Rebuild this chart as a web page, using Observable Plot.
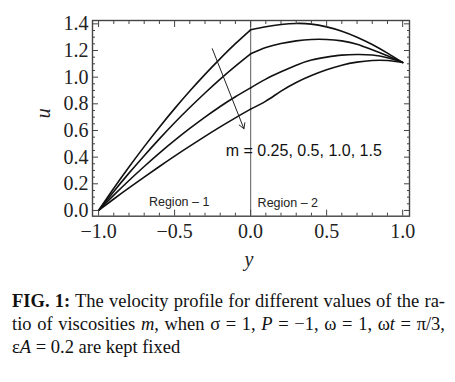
<!DOCTYPE html>
<html><head><meta charset="utf-8">
<script src="https://cdn.jsdelivr.net/npm/d3@7"></script>
<script src="https://cdn.jsdelivr.net/npm/@observablehq/plot@0.6"></script>
<style>
body{margin:0;background:#fff;width:455px;overflow:hidden}
#cap{font-family:"Liberation Serif","Times New Roman",serif;font-size:18.5px;line-height:23px;padding-left:12px;width:433px;color:#111}
#cap .j{display:block;text-align:justify;text-align-last:justify}
#cap .l{display:block;text-align:left}
</style>
</head><body>
<div id="chart"></div>
<div id="cap">
<span class="j"><b>FIG. 1:</b> The velocity profile for different values of the ra-</span>
<span class="j">tio of viscosities <i>m</i>, when σ = 1, <i>P</i> = −1, ω = 1, ω<i>t</i> = π/3,</span>
<span class="l">ε<i>A</i> = 0.2 are kept fixed</span>
</div>
<script>
// categories
const mValues = ["0.25", "0.5", "1.0", "1.5"];
// y coordinates in each region
const yRegion1 = [-1, -0.9, -0.8, -0.7, -0.6, -0.5, -0.4, -0.3, -0.2, -0.1, 0];
const yRegion2 = [0, 0.1, 0.2, 0.3, 0.4, 0.5, 0.6, 0.7, 0.8, 0.9, 1];
// velocity u, region 1
const uM025R1 = [0, 0.167, 0.326, 0.479, 0.625, 0.764, 0.896, 1.021, 1.139, 1.251, 1.355];
const uM05R1  = [0, 0.143, 0.280, 0.411, 0.537, 0.658, 0.772, 0.881, 0.985, 1.083, 1.175];
const uM10R1  = [0, 0.115, 0.225, 0.330, 0.430, 0.525, 0.615, 0.700, 0.780, 0.853, 0.920];
const uM15R1  = [0, 0.086, 0.169, 0.250, 0.330, 0.408, 0.483, 0.556, 0.627, 0.695, 0.760];
// velocity u, region 2
const uM025R2 = [1.355, 1.378, 1.395, 1.403, 1.398, 1.377, 1.345, 1.300, 1.245, 1.180, 1.110];
const uM05R2  = [1.175, 1.222, 1.252, 1.272, 1.283, 1.283, 1.272, 1.247, 1.205, 1.160, 1.110];
const uM10R2  = [0.920, 0.985, 1.040, 1.090, 1.128, 1.150, 1.165, 1.170, 1.166, 1.145, 1.110];
const uM15R2  = [0.760, 0.820, 0.895, 0.960, 1.012, 1.055, 1.090, 1.113, 1.125, 1.125, 1.110];
// ticks
const xMajorTicks = [-1, -0.5, 0, 0.5, 1];
const xMinorTicks = [-0.9, -0.8, -0.7, -0.6, -0.4, -0.3, -0.2, -0.1, 0.1, 0.2, 0.3, 0.4, 0.6, 0.7, 0.8, 0.9];
const yMajorTicks = [0, 0.2, 0.4, 0.6, 0.8, 1.0, 1.2, 1.4];
const yMinorTicks = [0.05, 0.1, 0.15, 0.25, 0.3, 0.35, 0.45, 0.5, 0.55, 0.65, 0.7, 0.75, 0.85, 0.9, 0.95, 1.05, 1.1, 1.15, 1.25, 1.3, 1.35];
// annotations
const arrowStart = [-0.252, 1.213];
const arrowEnd = [-0.044, 0.613];
const mLabel = "m = " + mValues.join(", ");
const region1Label = ["Region – 1"];
const region2Label = ["Region – 2"];

const r1 = [uM025R1, uM05R1, uM10R1, uM15R1];
const r2 = [uM025R2, uM05R2, uM10R2, uM15R2];
const rows = [];
mValues.forEach((m, i) => {
  yRegion1.forEach((y, j) => rows.push({key: m + "-1", y, u: r1[i][j]}));
  yRegion2.forEach((y, j) => rows.push({key: m + "-2", y, u: r2[i][j]}));
});

const fmt = d => d.toFixed(1).replace("-", "−");
const blank = () => "";
const tickStroke = "#444";
const sans = "'Liberation Sans', Arial, sans-serif";

const chart = Plot.plot({
  width: 455, height: 290,
  marginLeft: 92, marginRight: 46, marginTop: 20, marginBottom: 74.3,
  x: {domain: [-1.04, 1.045]},
  y: {domain: [-0.043, 1.425]},
  style: {fontFamily: "'Liberation Serif', serif", fontSize: "20px", color: "#222", background: "white"},
  marks: [
    Plot.ruleX([0], {stroke: "#777", strokeWidth: 1.2}),
    Plot.line(rows, {x: "y", y: "u", z: "key", curve: "natural", stroke: "#111", strokeWidth: 1.6}),
    Plot.arrow([0], {x1: () => arrowStart[0], y1: () => arrowStart[1], x2: () => arrowEnd[0], y2: () => arrowEnd[1], stroke: "#222", strokeWidth: 1, headLength: 9}),
    Plot.text([mLabel], {x: -0.164, y: 0.45, text: d => d, textAnchor: "start", fontFamily: sans, fontSize: 16, fill: "#111"}),
    Plot.text(region1Label, {x: -0.47, y: 0.067, text: d => d, textAnchor: "middle", fontFamily: sans, fontSize: 12.5, fill: "#222"}),
    Plot.text(region2Label, {x: 0.046, y: 0.055, text: d => d, textAnchor: "start", fontFamily: sans, fontSize: 12.5, fill: "#222"}),
    Plot.axisX(xMajorTicks, {anchor: "bottom", tickSize: 0, tickPadding: 8, tickFormat: fmt, fontSize: 20, label: null}),
    Plot.axisY(yMajorTicks, {anchor: "left", tickSize: 0, tickPadding: 4, tickFormat: fmt, fontSize: 20, label: null}),
    Plot.axisX(xMajorTicks, {anchor: "bottom", tickSize: -6, tickFormat: blank, label: null, stroke: tickStroke}),
    Plot.axisX(xMinorTicks, {anchor: "bottom", tickSize: -3, tickFormat: blank, label: null, stroke: tickStroke}),
    Plot.axisX(xMajorTicks, {anchor: "top", tickSize: -6, tickFormat: blank, label: null, stroke: tickStroke}),
    Plot.axisX(xMinorTicks, {anchor: "top", tickSize: -3, tickFormat: blank, label: null, stroke: tickStroke}),
    Plot.axisY(yMajorTicks, {anchor: "left", tickSize: -6, tickFormat: blank, label: null, stroke: tickStroke}),
    Plot.axisY(yMinorTicks, {anchor: "left", tickSize: -3, tickFormat: blank, label: null, stroke: tickStroke}),
    Plot.axisY(yMajorTicks, {anchor: "right", tickSize: -6, tickFormat: blank, label: null, stroke: tickStroke}),
    Plot.axisY(yMinorTicks, {anchor: "right", tickSize: -3, tickFormat: blank, label: null, stroke: tickStroke}),
    Plot.text(["u"], {frameAnchor: "left", dx: -49, rotate: -90, fontStyle: "italic", fontSize: 20, fill: "#222"}),
    Plot.text(["y"], {frameAnchor: "bottom", dx: -2, dy: 50, fontStyle: "italic", fontSize: 20, fill: "#222"}),
    Plot.frame({stroke: "#444", strokeWidth: 1.4})
  ]
});
document.getElementById("chart").appendChild(chart);
</script>
</body></html>
